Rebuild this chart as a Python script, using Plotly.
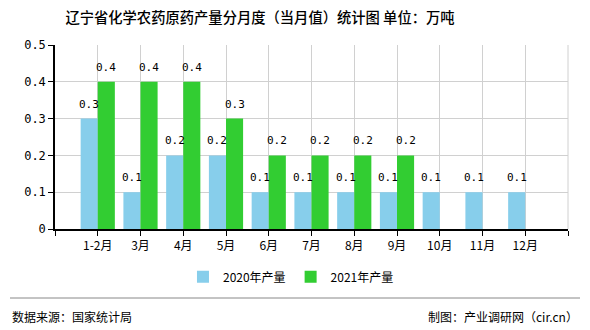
import plotly.graph_objects as go

# Monthly output data (10k tonnes)
months = ["1-2月", "3月", "4月", "5月", "6月", "7月", "8月", "9月", "10月", "11月", "12月"]
output_2020 = [0.3, 0.1, 0.2, 0.2, 0.1, 0.1, 0.1, 0.1, 0.1, 0.1, 0.1]
output_2021 = [0.4, 0.4, 0.4, 0.3, 0.2, 0.2, 0.2, 0.2, None, None, None]
y_ticks = [0, 0.1, 0.2, 0.3, 0.4, 0.5]
y_ticktext = ["0", "0.1", "0.2", "0.3", "0.4", "0.5"]

x_pos = list(range(len(months)))
label_font = dict(family="DejaVu Sans Mono", size=11, color="#000000")

fig = go.Figure()
fig.add_trace(go.Bar(
    x=x_pos, y=output_2020, name="2020年产量",
    marker=dict(color="#87CEEB", line=dict(width=0)),
))
fig.add_trace(go.Bar(
    x=x_pos, y=output_2021, name="2021年产量",
    marker=dict(color="#32CD32", line=dict(width=0)),
))

# value labels above each bar (bar centres sit at +/-0.2 of the category)
annotations = []
for offset, series in ((-0.2, output_2020), (0.2, output_2021)):
    for i, v in enumerate(series):
        if v is None:
            continue
        annotations.append(dict(
            x=i + offset, y=v, xref="x", yref="y", text=f"{v:.1f}",
            showarrow=False, yanchor="bottom", yshift=6, font=label_font,
        ))

annotations += [
    dict(text="数据来源：国家统计局", xref="paper", yref="paper",
         x=-0.0877, y=-0.473, xanchor="left", yanchor="middle", showarrow=False,
         font=dict(family="Noto Sans CJK SC", size=12, color="#000000")),
    dict(text="制图：产业调研网（cir.cn）", xref="paper", yref="paper",
         x=1.0234, y=-0.473, xanchor="right", yanchor="middle", showarrow=False,
         font=dict(family="Noto Sans CJK SC", size=12, color="#000000")),
]

tickvals = [-1] + x_pos + [len(months)]
ticktext = [""] + months + [""]

fig.update_layout(
    width=590, height=330,
    margin=dict(l=55, r=22, t=45, b=101),
    paper_bgcolor="white", plot_bgcolor="white",
    barmode="group", bargap=0.2, bargroupgap=0,
    title=dict(
        text="辽宁省化学农药原药产量分月度（当月值）统计图 单位：万吨",
        xref="container", x=260 / 590, xanchor="center", y=1 - 18 / 330, yanchor="middle",
        font=dict(family="Noto Sans CJK SC", size=14.3, color="#000000", weight=500),
    ),
    font=dict(family="Noto Sans CJK SC", size=12, color="#000000"),
    xaxis=dict(
        range=[-1, len(months)], tickvals=tickvals, ticktext=ticktext,
        showgrid=True, gridcolor="#D0D0D0", gridwidth=1,
        showline=True, linecolor="#000000", linewidth=1.5,
        ticks="outside", ticklen=5, tickcolor="#000000",
        tickfont=dict(family="Noto Sans CJK SC", size=12, color="#000000"),
        zeroline=False,
    ),
    yaxis=dict(
        range=[0, 0.5], tickvals=y_ticks, ticktext=y_ticktext,
        showgrid=True, gridcolor="#D0D0D0", gridwidth=1,
        showline=True, linecolor="#000000", linewidth=1.5,
        ticks="outside", ticklen=5, tickcolor="#000000",
        tickfont=dict(family="DejaVu Sans Mono", size=12, color="#000000"),
        zeroline=False,
    ),
    legend=dict(
        orientation="h", x=0.46, xanchor="center", y=-0.26, yanchor="middle",
        font=dict(family="Noto Sans CJK SC", size=12, color="#000000"),
        itemwidth=30, traceorder="normal",
    ),
    shapes=[
        # right border of plot area
        dict(type="line", xref="paper", yref="paper", x0=1, x1=1, y0=0, y1=1,
             line=dict(color="#D0D0D0", width=1)),
        # footer separator
        dict(type="line", xref="paper", yref="paper", x0=-0.0877, x1=1.0234,
             y0=-0.375, y1=-0.375, line=dict(color="#888888", width=1)),
    ],
    annotations=annotations,
)

fig.write_html("out.html")
